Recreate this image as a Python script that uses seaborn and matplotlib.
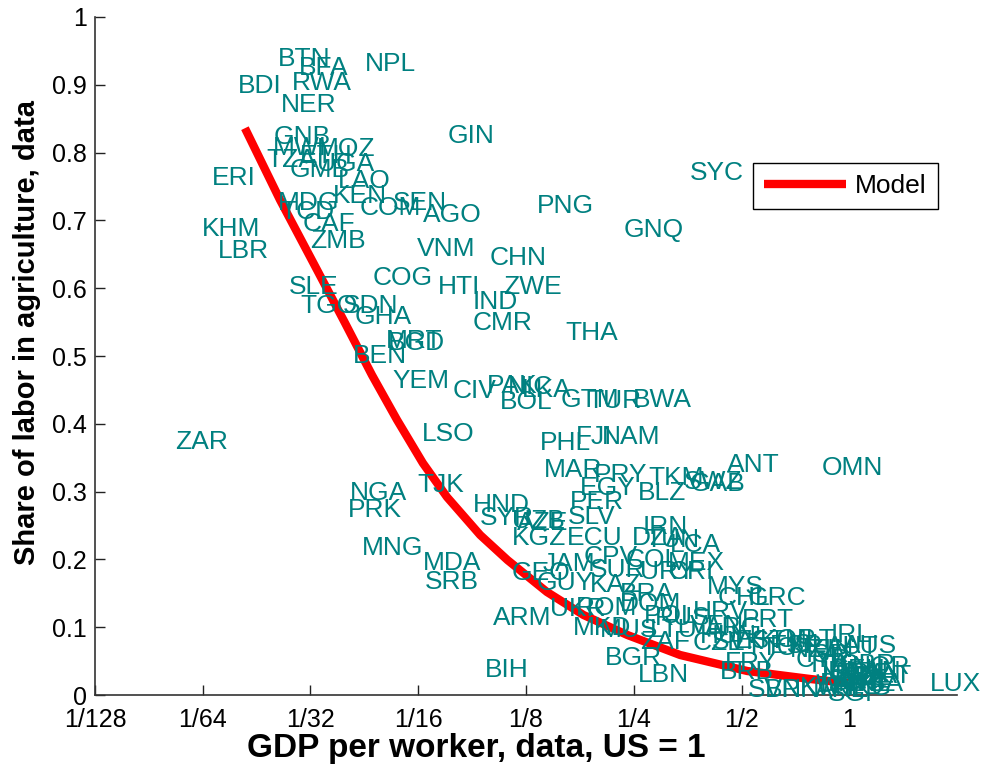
import matplotlib
matplotlib.use("Agg")
import matplotlib.pyplot as plt
import seaborn as sns
import pandas as pd

# Country codes with GDP per worker (US = 1) and agricultural labor share
countries = [
    "BTN", "BFA", "NPL", "BDI", "RWA", "NER", "GIN", "GNB", "MWI", "MOZ",
    "TZA", "UGA", "GMB", "ETH", "ERI", "LAO", "KEN", "SEN", "MDG", "COM",
    "AGO", "TCD", "CAF", "KHM", "ZMB", "LBR", "VNM", "COG", "HTI", "CHN",
    "PNG", "GNQ", "SYC", "ZWE", "SLE", "TGO", "SDN", "GHA", "IND", "CMR",
    "THA", "BGD", "MRT", "BEN", "YEM", "CIV", "PAK", "NIC", "LKA", "GTM",
    "TUR", "BOL", "BWA", "LSO", "PHL", "FJI", "NAM", "ZAR", "MAR", "PRY",
    "TKM", "SWZ", "GAB", "EGY", "BLZ", "ANT", "OMN", "NGA", "PRK", "TJK",
    "HND", "SYR", "AZE", "UZB", "SLV", "PER", "KGZ", "ECU", "IRN", "DZA",
    "TUN", "LCA", "CPV", "COL", "MEX", "JAM", "SUR", "URY", "CRI", "GEO",
    "GUY", "KAZ", "ARM", "UKR", "ROM", "MKD", "BRA", "DOM", "POL", "HRV",
    "PRT", "MYS", "CHL", "GRC", "BGR", "LBN", "BIH", "MNG", "MDA", "SRB",
    "CZE", "IRL", "USA", "LUX", "SGP", "BRN", "SVN", "BRB", "FRY", "RUS",
    "MUS", "LTU", "ARG", "VEN", "ZAF", "SVK", "HUN", "EST", "KOR", "TTO",
    "ESP", "MLT", "NZL", "CYP", "ISR", "ISL", "ITA", "JPN", "FIN", "AUT",
    "GBR", "DEU", "FRA", "NLD", "BEL", "CAN", "NOR", "SWE", "DNK", "CHE",
    "HKG", "KWT", "ARE", "QAT", "AUS",
]
gdp_rel = [
    0.0254, 0.0290, 0.0444, 0.0196, 0.0277, 0.0258, 0.0757, 0.0246, 0.0245, 0.0326,
    0.0235, 0.0326, 0.0274, 0.0292, 0.0166, 0.0373, 0.0361, 0.0531, 0.0254, 0.0430,
    0.0644, 0.0258, 0.0298, 0.0155, 0.0311, 0.0172, 0.0620, 0.0467, 0.0710, 0.0992,
    0.134, 0.234, 0.359, 0.108, 0.0272, 0.0292, 0.0385, 0.0416, 0.0889, 0.0889,
    0.161, 0.0515, 0.0508, 0.0411, 0.0531, 0.0782, 0.0973, 0.111, 0.122, 0.156,
    0.185, 0.106, 0.249, 0.0640, 0.137, 0.172, 0.204, 0.0131, 0.140, 0.193,
    0.274, 0.344, 0.359, 0.177, 0.256, 0.456, 0.840, 0.0403, 0.0398, 0.0620,
    0.0889, 0.0930, 0.118, 0.114, 0.164, 0.166, 0.114, 0.163, 0.264, 0.247,
    0.269, 0.316, 0.181, 0.237, 0.312, 0.139, 0.189, 0.261, 0.312, 0.114,
    0.134, 0.189, 0.101, 0.146, 0.172, 0.169, 0.229, 0.229, 0.266, 0.366,
    0.502, 0.401, 0.428, 0.519, 0.208, 0.256, 0.0961, 0.0435, 0.0644, 0.0653,
    0.366, 0.885, 1.0, 1.684, 0.873, 0.582, 0.522, 0.436, 0.450, 0.287,
    0.201, 0.278, 0.396, 0.359, 0.261, 0.414, 0.383, 0.480, 0.564, 0.512,
    0.601, 0.662, 0.684, 0.706, 0.753, 0.671, 0.778, 0.803, 0.788, 0.862,
    0.932, 0.885, 0.914, 0.840, 0.956, 0.974, 1.02, 0.873, 0.830, 0.944,
    0.914, 0.730, 0.803, 1.073, 0.962,
]
ag_share = [
    0.938, 0.925, 0.931, 0.898, 0.903, 0.870, 0.824, 0.823, 0.807, 0.805,
    0.789, 0.783, 0.774, 0.795, 0.763, 0.758, 0.736, 0.726, 0.726, 0.718,
    0.708, 0.712, 0.695, 0.687, 0.670, 0.655, 0.658, 0.615, 0.602, 0.645,
    0.721, 0.686, 0.770, 0.602, 0.602, 0.574, 0.574, 0.558, 0.580, 0.549,
    0.534, 0.519, 0.522, 0.500, 0.463, 0.448, 0.456, 0.454, 0.450, 0.435,
    0.434, 0.432, 0.435, 0.385, 0.372, 0.381, 0.381, 0.373, 0.332, 0.324,
    0.320, 0.314, 0.311, 0.305, 0.298, 0.339, 0.335, 0.298, 0.273, 0.310,
    0.280, 0.261, 0.254, 0.257, 0.263, 0.285, 0.232, 0.232, 0.248, 0.232,
    0.229, 0.221, 0.204, 0.199, 0.195, 0.193, 0.184, 0.181, 0.181, 0.180,
    0.165, 0.162, 0.114, 0.127, 0.128, 0.099, 0.149, 0.134, 0.117, 0.122,
    0.111, 0.159, 0.143, 0.143, 0.055, 0.030, 0.037, 0.217, 0.195, 0.167,
    0.077, 0.089, 0.016, 0.016, 0.002, 0.007, 0.007, 0.034, 0.047, 0.114,
    0.096, 0.096, 0.099, 0.102, 0.078, 0.078, 0.087, 0.080, 0.081, 0.069,
    0.072, 0.081, 0.066, 0.052, 0.059, 0.074, 0.044, 0.034, 0.066, 0.071,
    0.044, 0.037, 0.031, 0.027, 0.025, 0.034, 0.041, 0.022, 0.016, 0.016,
    0.010, 0.010, 0.007, 0.028, 0.072,
]

# Model-implied agricultural share along the income axis
model_gdp = [0.0205, 0.0257, 0.0326, 0.0390, 0.0464, 0.0545, 0.0644, 0.0752,
             0.0931, 0.111, 0.143, 0.181, 0.240, 0.337, 0.519, 0.779, 0.99]
model_share = [0.836, 0.730, 0.627, 0.549, 0.472, 0.406, 0.342, 0.292,
               0.236, 0.199, 0.152, 0.118, 0.0885, 0.059, 0.0354, 0.0236, 0.0177]

x_ticks = [1/128, 1/64, 1/32, 1/16, 1/8, 1/4, 1/2, 1]
x_tick_labels = ["1/128", "1/64", "1/32", "1/16", "1/8", "1/4", "1/2", "1"]
y_ticks = [0, 0.1, 0.2, 0.3, 0.4, 0.5, 0.6, 0.7, 0.8, 0.9, 1]
y_tick_labels = ["0", "0.1", "0.2", "0.3", "0.4", "0.5", "0.6", "0.7", "0.8", "0.9", "1"]

sns.set_style("ticks")
plt.rcParams["font.family"] = ["Liberation Sans", "DejaVu Sans"]

fig = plt.figure(figsize=(9.83, 7.69), dpi=100)
ax = fig.add_axes([0.0966, 0.0962, 0.8770, 0.8817])

ax.set_xscale("log", base=2)
ax.set_xlim(1/128, 2)
ax.set_ylim(0, 1)

model_df = pd.DataFrame({"gdp": model_gdp, "share": model_share})
sns.lineplot(data=model_df, x="gdp", y="share", color="#ff0000", linewidth=6,
             sort=False, label="Model", ax=ax, solid_capstyle="butt",
             solid_joinstyle="round")

teal = "#008080"
for name, gx, sy in zip(countries, gdp_rel, ag_share):
    ax.text(gx, sy, name, color=teal, fontsize=19, ha="left", va="center",
            clip_on=False, zorder=3)

ax.set_xticks(x_ticks)
ax.set_xticklabels(x_tick_labels)
ax.minorticks_off()
ax.set_yticks(y_ticks)
ax.set_yticklabels(y_tick_labels)
ax.tick_params(direction="in", length=7, width=1, labelsize=18,
               colors="#222222", labelcolor="black")
ax.tick_params(axis="x", pad=9)
ax.tick_params(axis="y", pad=6)

for side in ("top", "right"):
    ax.spines[side].set_visible(False)
for side in ("left", "bottom"):
    ax.spines[side].set_color("#333333")
    ax.spines[side].set_linewidth(1.2)

ax.set_xlabel("GDP per worker, data, US = 1", fontsize=24, fontweight="bold",
              color="black")
ax.xaxis.set_label_coords(0.442, -0.056)
ax.set_ylabel("Share of labor in agriculture, data", fontsize=21,
              fontweight="bold", color="black")
ax.yaxis.set_label_coords(-0.063, 0.535)

leg = ax.legend(loc="upper left", bbox_to_anchor=(0.763, 0.785),
                frameon=True, fancybox=False, framealpha=1, edgecolor="black",
                borderaxespad=0, handlelength=3.1, handletextpad=0.35,
                borderpad=0.42, fontsize=19)
leg.get_frame().set_linewidth(1.0)
for txt in leg.get_texts():
    txt.set_color("black")
leg.set_zorder(5)

fig.savefig("out.png", dpi=100)
